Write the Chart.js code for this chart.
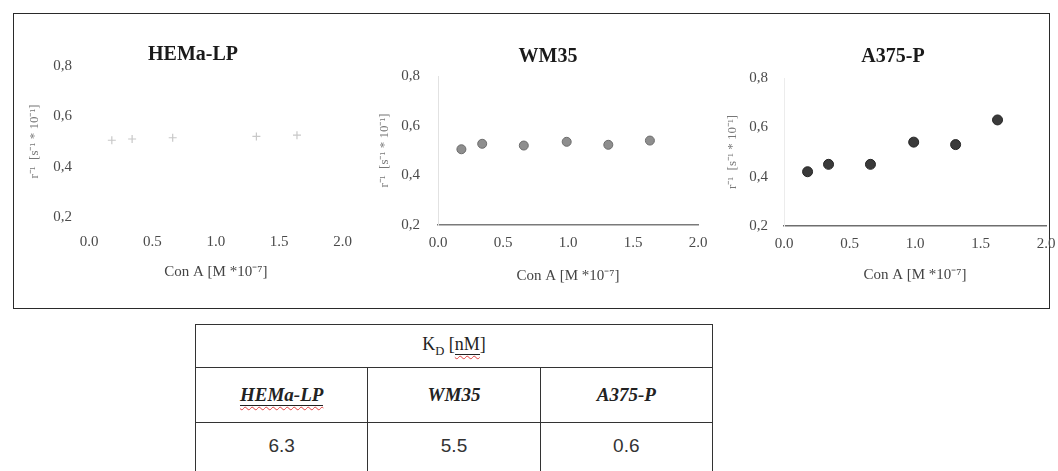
<!DOCTYPE html>
<html>
<head>
<meta charset="utf-8">
<script src="https://cdn.jsdelivr.net/npm/chart.js@4/dist/chart.umd.min.js"></script>
<style>
  html, body { margin: 0; padding: 0; background: #fff; overflow: hidden; }
  body { width: 1058px; height: 471px; position: relative; }
  #frame {
    position: absolute; left: 13px; top: 13px; width: 1037px; height: 296px;
    border: 1.6px solid #2a2a2a; box-sizing: border-box;
  }
  canvas.panel { position: absolute; top: 20px; }
  #kd {
    position: absolute; left: 195px; top: 324px; width: 518px;
    border-collapse: collapse; table-layout: fixed;
    font-family: "Liberation Serif", "Times New Roman", serif; color: #222;
  }
  #kd td { border: 1.6px solid #333; text-align: center; padding: 0; }
  #kd tr.head td { height: 42px; font-size: 18px; }
  #kd tr.names td { height: 54px; font-size: 19px; font-weight: bold; font-style: italic; }
  #kd tr.vals td { height: 52px; font-size: 19px; font-family: "Liberation Sans", Arial, sans-serif; color: #333; vertical-align: top; padding-top: 12px; }
  .spell { text-decoration: underline wavy #e04040; text-underline-offset: 5px; text-decoration-thickness: 1px; border-bottom: 1px solid #222; }
  sub { font-size: 0.7em; }
</style>
</head>
<body>
<div id="frame"></div>
<canvas id="c1" class="panel" width="350" height="280" style="left:18px"></canvas>
<canvas id="c2" class="panel" width="352" height="280" style="left:372px"></canvas>
<canvas id="c3" class="panel" width="350" height="280" style="left:718px"></canvas>
<table id="kd"></table>

<script>
// Con A concentration [M *10^-7] and measured rate for each cell line
const concHEMa = [0.18, 0.34, 0.66, 1.32, 1.64];
const rateHEMa = [0.505, 0.51, 0.515, 0.52, 0.525];

const concWM35 = [0.18, 0.34, 0.66, 0.99, 1.31, 1.63];
const rateWM35 = [0.505, 0.527, 0.52, 0.535, 0.523, 0.54];

const concA375 = [0.18, 0.34, 0.66, 0.99, 1.31, 1.63];
const rateA375 = [0.42, 0.45, 0.45, 0.54, 0.53, 0.63];

// axis ticks
const xTicks = [0, 0.5, 1.0, 1.5, 2.0];
const xTickLabels = ['0.0', '0.5', '1.0', '1.5', '2.0'];
const yTicks = [0.2, 0.4, 0.6, 0.8];
const yTickLabels = ['0,2', '0,4', '0,6', '0,8'];

// dissociation constants table
const cellLines = ['HEMa-LP', 'WM35', 'A375-P'];
const kdValues = ['6.3', '5.5', '0.6'];

const xTitle = 'Con A [M *10\u207B\u2077]';
const yTitle = 'r\u207B\u00B9  [s\u207B\u00B9 * 10\u207B\u00B9]';

// draws the panel heading centred on the canvas
const panelTitle = {
  id: 'panelTitle',
  afterDraw(chart, args, opts) {
    const ctx = chart.ctx;
    ctx.save();
    ctx.font = 'bold 20px "Liberation Serif", "Times New Roman", serif';
    ctx.fillStyle = '#1a1a1a';
    ctx.textAlign = 'center';
    ctx.textBaseline = 'middle';
    ctx.fillText(opts.text, chart.width / 2, opts.y);
    ctx.restore();
  }
};

function makePanel(id, p) {
  const tickFont = { family: '"Liberation Serif", "Times New Roman", serif', size: 15 };
  new Chart(document.getElementById(id), {
    type: 'scatter',
    data: {
      datasets: [{
        data: p.x.map((v, i) => ({ x: v, y: p.y[i] })),
        pointStyle: p.pointStyle,
        pointRadius: p.radius,
        pointBackgroundColor: p.fill,
        pointBorderColor: p.stroke,
        pointBorderWidth: p.strokeWidth
      }]
    },
    options: {
      responsive: false,
      animation: false,
      devicePixelRatio: 1,
      layout: { padding: { top: p.top, right: p.right, left: 0, bottom: 0 } },
      plugins: {
        legend: { display: false },
        tooltip: { enabled: false },
        panelTitle: { text: p.title, y: p.titleY }
      },
      scales: {
        x: {
          type: 'linear', min: 0, max: 2,
          afterBuildTicks: a => { a.ticks = xTicks.map(v => ({ value: v })); },
          afterFit: s => { s.height = p.xHeight; },
          grid: { display: false, drawTicks: false },
          border: { display: p.xBorder !== null, color: p.xBorder || '#000', width: 1.5 },
          ticks: { padding: p.xTickPad, color: '#4a4a4a', font: tickFont, maxRotation: 0,
                   callback: (v, i) => xTickLabels[i] },
          title: { display: true, text: xTitle, color: '#444',
                   font: { family: '"Liberation Serif", "Times New Roman", serif', size: 15 },
                   padding: { top: 0, bottom: p.xTitlePad } }
        },
        y: {
          type: 'linear', min: 0.2, max: 0.8,
          afterBuildTicks: a => { a.ticks = yTicks.map(v => ({ value: v })); },
          afterFit: s => { s.width = p.yWidth; },
          grid: { display: false, drawTicks: false },
          border: { display: p.yBorder !== null, color: p.yBorder || '#000', width: 1 },
          ticks: { padding: p.yTickPad, color: '#4a4a4a', font: tickFont,
                   callback: (v, i) => yTickLabels[i] },
          title: { display: true, text: yTitle, color: '#777',
                   font: { family: '"Liberation Serif", "Times New Roman", serif', size: 13 },
                   padding: { top: p.yTitlePad, bottom: 0 } }
        }
      }
    },
    plugins: [panelTitle]
  });
}

makePanel('c1', {
  title: 'HEMa-LP', titleY: 35,
  x: concHEMa, y: rateHEMa,
  pointStyle: 'cross', radius: 4, fill: '#cccccc', stroke: '#c8c8c8', strokeWidth: 1.2,
  top: 46, right: 23, yWidth: 71, xHeight: 83,
  xTickPad: 16, xTitlePad: 19, yTickPad: 17, yTitlePad: 9,
  xBorder: null, yBorder: null
});

makePanel('c2', {
  title: 'WM35', titleY: 37,
  x: concWM35, y: rateWM35,
  pointStyle: 'circle', radius: 4.5, fill: '#8e8e8e', stroke: '#6c6c6c', strokeWidth: 1,
  top: 56, right: 26, yWidth: 66, xHeight: 75,
  xTickPad: 9, xTitlePad: 15, yTickPad: 18, yTitlePad: 5,
  xBorder: '#7a7a7a', yBorder: '#e2e2e2'
});

makePanel('c3', {
  title: 'A375-P', titleY: 37,
  x: concA375, y: rateA375,
  pointStyle: 'circle', radius: 5, fill: '#3a3a3a', stroke: '#262626', strokeWidth: 1,
  top: 58, right: 22, yWidth: 66, xHeight: 74,
  xTickPad: 9, xTitlePad: 16, yTickPad: 16, yTitlePad: 7,
  xBorder: '#6e6e6e', yBorder: '#ececec'
});

// K_D summary table
const table = document.getElementById('kd');
table.innerHTML =
  '<tr class="head"><td colspan="' + cellLines.length + '">K<sub>D</sub> [<span class="spell">nM</span>]</td></tr>' +
  '<tr class="names">' + cellLines.map((c, i) =>
      '<td>' + (i === 0 ? '<span class="spell">' + c + '</span>' : c) + '</td>').join('') + '</tr>' +
  '<tr class="vals">' + kdValues.map(v => '<td>' + v + '</td>').join('') + '</tr>';
</script>
</body>
</html>
